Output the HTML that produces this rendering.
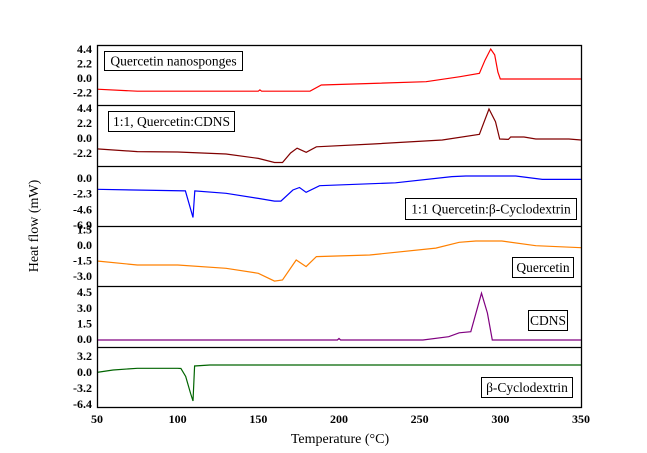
<!DOCTYPE html>
<html><head><meta charset="utf-8">
<style>
html,body{margin:0;padding:0;background:#fff;}
svg{display:block;font-family:"Liberation Serif",serif;}
</style></head>
<body>
<svg id="chart" width="647" height="453" viewBox="0 0 647 453" xmlns="http://www.w3.org/2000/svg">
<rect width="647" height="453" fill="#fff"/>
<g id="plot"></g>
<text x="340" y="443" text-anchor="middle" font-size="14">Temperature (°C)</text>
<text x="0" y="0" transform="translate(38,226) rotate(-90)" text-anchor="middle" font-size="14">Heat flow (mW)</text>
</svg>
<script>
const xTicks = [50,100,150,200,250,300,350];
const seriesNames = ["Quercetin nanosponges","1:1, Quercetin:CDNS","1:1 Quercetin:β-Cyclodextrin","Quercetin","CDNS","β-Cyclodextrin"];
const seriesColors = ["#ff0000","#800000","#0000ff","#ff8000","#800080","#006400"];
const yTickLabels = [["4.4","2.2","0.0","-2.2"],["4.4","2.2","0.0","-2.2"],["0.0","-2.3","-4.6","-6.9"],["1.5","0.0","-1.5","-3.0"],["4.5","3.0","1.5","0.0"],["3.2","0.0","-3.2","-6.4"]];
const yTickValues = [[4.4,2.2,0,-2.2],[4.4,2.2,0,-2.2],[0,-2.3,-4.6,-6.9],[1.5,0,-1.5,-3.0],[4.5,3.0,1.5,0],[3.2,0,-3.2,-6.4]];
const tNano = [50,75,150,151,152,182,189,254,275,287,290.5,294,296.5,298.5,300,350];
const vNano = [-1.7,-2.0,-2.0,-1.8,-2.0,-2.0,-1.06,-0.56,0.2,0.7,2.7,4.4,3.5,0.9,-0.15,-0.15];
const tQCDNS = [50,75,100,130,150,160,165,170,174,179.7,186,221,264,287,293,297,299.6,305,306.4,314.7,322,342.5,350];
const vQCDNS = [-1.6,-2.0,-2.06,-2.35,-3.0,-3.6,-3.6,-2.2,-1.5,-2.1,-1.3,-0.88,-0.3,0.54,4.26,2.4,-0.15,-0.2,0.15,0.15,-0.15,-0.15,-0.3];
const tQBCD = [50,104.8,109.5,110.6,130,150,160,164,171.4,175.5,179.6,188,235,270,278.6,309.6,326,350];
const vQBCD = [-1.66,-1.9,-5.8,-1.9,-2.25,-3.0,-3.4,-3.4,-1.76,-1.4,-2.1,-1.13,-0.7,0.2,0.3,0.3,-0.2,-0.2];
const tQuer = [50,75,100,130,150,160,165,173.5,179.6,186,219,260,274.5,284.8,301,322,350];
const vQuer = [-1.55,-1.94,-1.94,-2.26,-2.75,-3.5,-3.4,-1.46,-2.1,-1.13,-0.97,-0.3,0.26,0.39,0.39,-0.07,-0.26];
const tCDNS = [50,199,200,201,252,268,274.5,281.7,288.3,292,295,350];
const vCDNS = [-0.1,-0.1,0.05,-0.1,-0.1,0.22,0.6,0.7,4.4,2.5,-0.1,-0.1];
const tBCD = [50,60,75,100,102,105,108,109.5,110.5,120,350];
const vBCD = [-0.07,0.4,0.74,0.74,0.7,-0.9,-4.3,-5.8,1.2,1.4,1.4];
const allT = [tNano,tQCDNS,tQBCD,tQuer,tCDNS,tBCD];
const allV = [vNano,vQCDNS,vQBCD,vQuer,vCDNS,vBCD];

const NS="http://www.w3.org/2000/svg";
const plot=document.getElementById('plot');
const X0=97,X1=581;
const panelTop=[45,105,166,226,286,347];
const panelBot=[105,166,226,286,347,407];
const zeroY=[78,138,178,245,339,372];
const pxPerUnit=[6.6,6.8,6.8,10.3,10.4,5.0];
function xScale(t){return X0+(t-50)/300*(X1-X0);}
function yScale(i,v){return zeroY[i]-v*pxPerUnit[i];}
const legendBoxes=[[104,51,138,19,"l"],[108,111,126,20,"l"],[405,198,171,21,"l"],[512,257,61,20,"l"],[528,310,39,20,"l"],[481,377,91,20,"l"]];
function mk(tag,attrs){const e=document.createElementNS(NS,tag);for(const k in attrs)e.setAttribute(k,attrs[k]);return e;}

for(let i=0;i<6;i++){
  const g=mk('g',{});
  
  
  plot.appendChild(g);
  // tick labels
  for(let j=0;j<yTickValues[i].length;j++){
    const tx=mk('text',{x:92,y:yScale(i,yTickValues[i][j])+4,'text-anchor':'end','font-size':'12','font-weight':'bold'});
    
    
    tx.textContent=yTickLabels[i][j];
    g.appendChild(tx);
  }
  const pts=allT[i].map((t,k)=>xScale(t).toFixed(1)+','+yScale(i,allV[i][k]).toFixed(1)).join(' ');
  const pl=mk('polyline',{points:pts,fill:'none',stroke:seriesColors[i],'stroke-width':'1.2'});
  
  
  g.appendChild(pl);
  const b=legendBoxes[i];
  const r=mk('rect',{x:b[0]+0.5,y:b[1]+0.5,width:b[2],height:b[3],fill:'#fff',stroke:'#000','stroke-width':'1'});
  
  
  g.appendChild(r);
  const lt=mk('text',{x:b[0]+b[2]/2+0.5,y:b[1]+b[3]/2+5,'text-anchor':'middle','font-size':'13.5'});
  
  
  lt.textContent=seriesNames[i];
  g.appendChild(lt);
  if(i>0){
    const ln=mk('line',{x1:X0,x2:X1,y1:panelTop[i]+0.5,y2:panelTop[i]+0.5,stroke:'#000','stroke-width':'1.3'});
    
    
    plot.appendChild(ln);
  }
}
const frame=mk('rect',{x:X0+0.5,y:panelTop[0]+0.5,width:X1-X0,height:panelBot[5]-panelTop[0],fill:'none',stroke:'#000','stroke-width':'1.3'});


plot.appendChild(frame);
for(const t of xTicks){
  const tx=mk('text',{x:xScale(t),y:423,'text-anchor':'middle','font-size':'12','font-weight':'bold'});
  
  
  tx.textContent=t;
  plot.appendChild(tx);
}
</script>
</body></html>
